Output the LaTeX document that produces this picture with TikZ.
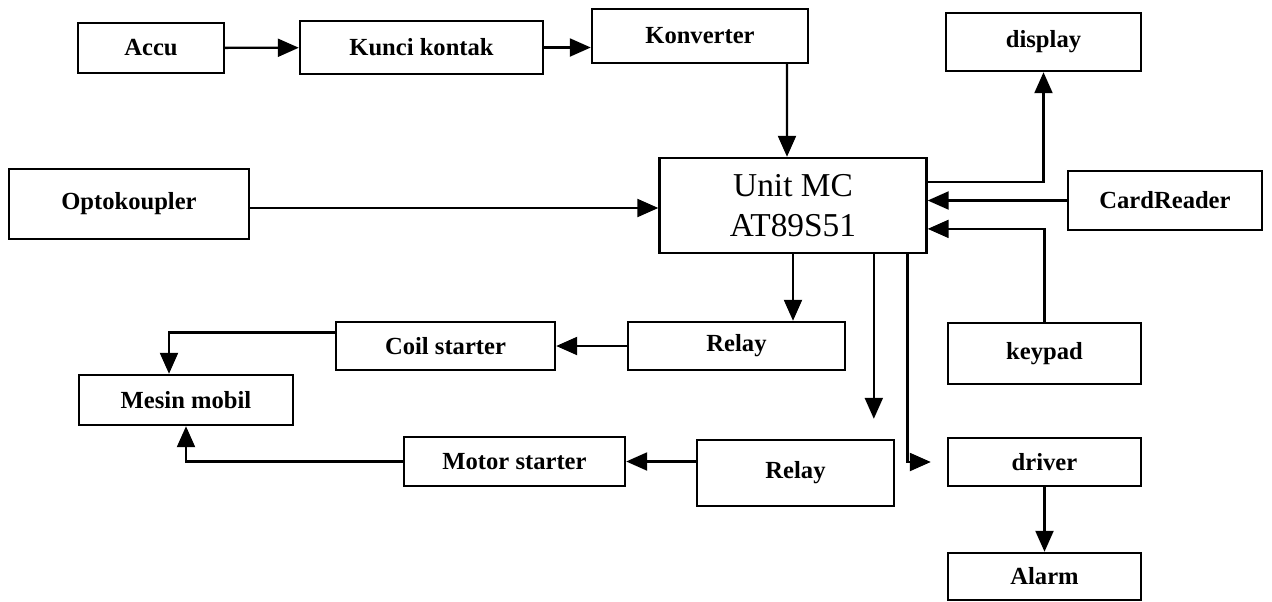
\documentclass[tikz,border=0pt]{standalone}
\usepackage{fontspec}
\setmainfont{Liberation Serif}
\usetikzlibrary{arrows.meta,calc,positioning}

\begin{document}
\begin{tikzpicture}[x=0.02cm,y=-0.02cm,>={Triangle[length=0.42cm,width=0.36cm]},
  blok/.style={draw,line width=1.4pt,inner sep=0pt,font=\bfseries\fontsize{14}{17}\selectfont},
  panah/.style={line width=1.3pt,->}]
  \useasboundingbox (0,0) rectangle (1272,602);

  % baris atas: sumber daya
  \node[blok,minimum width=2.92cm,minimum height=1.0cm] (accu) at (151,48) {Accu};
  \node[blok,minimum width=4.86cm,minimum height=1.06cm] (kunci) at (421.5,47.5) {Kunci kontak};
  \node[blok,minimum width=4.32cm,minimum height=1.08cm] (konv) at (700,36) {Konverter};
  \node[blok,minimum width=3.9cm,minimum height=1.16cm] (disp) at (1043.5,42) {display};

  % mikrokontroler dan masukan
  \node[blok,minimum width=4.8cm,minimum height=1.4cm] (opto) at (129,204) {Optokoupler};
  \node[draw,line width=1.4pt,minimum width=5.34cm,minimum height=1.9cm,align=center,
        font=\fontsize{19}{23}\selectfont] (unit) at (793,205.5) {Unit MC\\AT89S51};
  \node[blok,minimum width=3.88cm,minimum height=1.18cm] (card) at (1165,200.5) {CardReader};
  \node[blok,minimum width=3.86cm,minimum height=1.22cm] (keypad) at (1044.5,353.5) {keypad};

  % keluaran
  \node[blok,minimum width=4.38cm,minimum height=0.96cm] (coil) at (445.5,346) {Coil starter};
  \node[blok,minimum width=4.34cm,minimum height=0.96cm] (relaya) at (736.5,346) {Relay};
  \node[blok,minimum width=4.28cm,minimum height=1.0cm] (mesin) at (186,400) {Mesin mobil};
  \node[blok,minimum width=4.42cm,minimum height=0.98cm] (motor) at (514.5,461.5) {Motor starter};
  \node[blok,minimum width=3.94cm,minimum height=1.32cm] (relayb) at (795.5,473) {Relay};
  \node[blok,minimum width=3.86cm,minimum height=0.96cm] (driver) at (1044.5,462) {driver};
  \node[blok,minimum width=3.86cm,minimum height=0.94cm] (alarm) at (1044.5,576.5) {Alarm};

  % titik bantu di sisi Unit MC
  \coordinate (uka) at ($(unit.north east)!0.26!(unit.south east)$);
  \coordinate (ukb) at ($(unit.north east)!0.74!(unit.south east)$);
  \coordinate (uba) at ($(unit.south west)!0.8!(unit.south east)$);
  \coordinate (ubb) at ($(unit.south west)!0.925!(unit.south east)$);
  \coordinate (cka) at ($(coil.north west)!0.23!(coil.south west)$);

  % panah
  \draw[panah] (accu) -- (kunci);
  \draw[panah] (kunci.east) -- (kunci.east -| konv.west);
  \draw[panah] ([xshift=1.74cm]konv.south) -- ([xshift=-0.12cm]unit.north);
  \draw[panah] (opto.east |- 0,208) -- (unit.west |- 0,208);
  \draw[panah] (uka) -| (disp.south);
  \draw[panah] (card.west) -- (card.west -| unit.east);
  \draw[panah] (keypad.north) |- (ukb);
  \draw[panah] (unit.south) -- (unit.south |- relaya.north);
  \draw[panah,shorten >=0.4cm] (uba) -- (uba |- relayb.north);
  \draw[panah,shorten >=0.32cm] (ubb) |- (driver.west);
  \draw[panah] (relaya) -- (coil);
  \draw[panah] (cka) -| ([xshift=-0.34cm]mesin.north);
  \draw[panah] (relayb.west |- motor.west) -- (motor.east);
  \draw[panah] (motor.west) -| (mesin.south);
  \draw[panah] (driver) -- (alarm);
\end{tikzpicture}
\end{document}
